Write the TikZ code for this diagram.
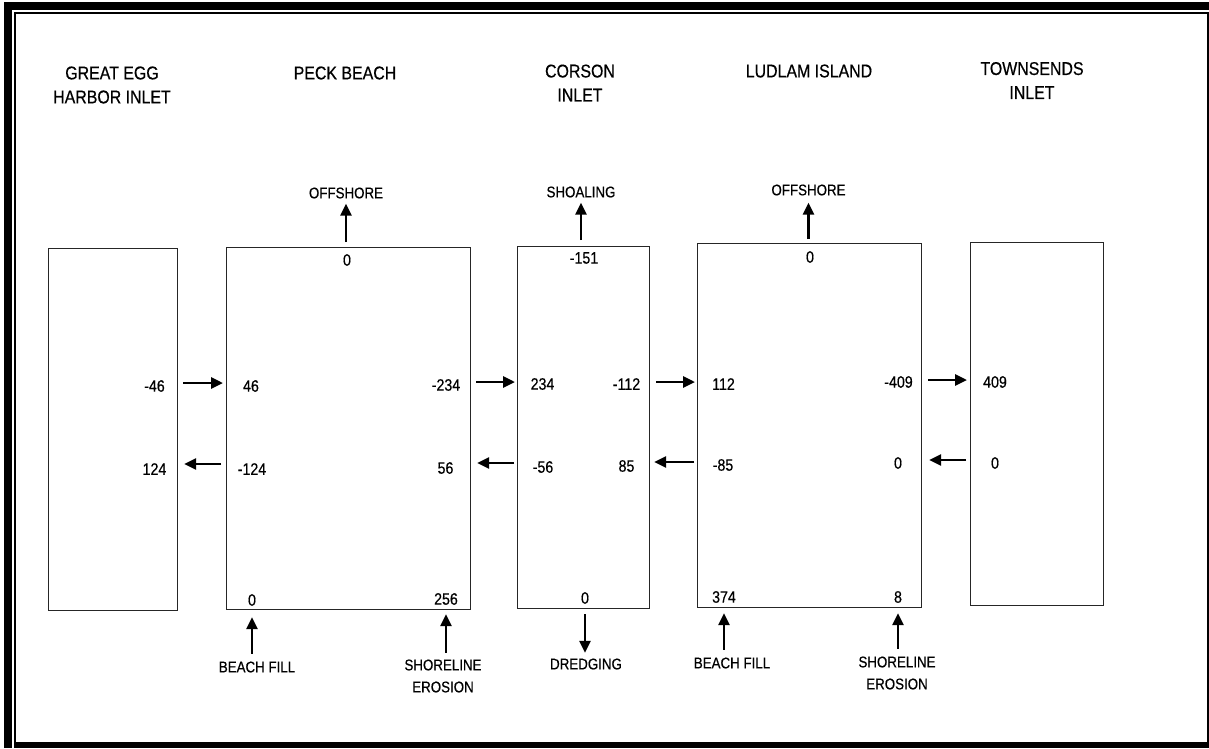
\documentclass[tikz,border=0pt]{standalone}
\usepackage{fontspec}
\setmainfont[FakeStretch=0.86]{Liberation Sans}
\newfontfamily\diagfont[FakeStretch=0.86,FakeBold=0.5]{Liberation Sans}
\usetikzlibrary{arrows.meta,calc}
\begin{document}
\begin{tikzpicture}[x=1pt,y=-1pt,
  box/.style={draw=black!85, line width=1.2pt, inner sep=0pt, anchor=north west},
  ttl/.style={font=\fontsize{18.5}{24}\selectfont\diagfont, align=center, inner sep=0pt},
  lbl/.style={font=\fontsize{15.5}{22}\selectfont\diagfont, align=center, inner sep=3pt},
  num/.style={font=\fontsize{16.5}{19}\selectfont\diagfont, inner sep=0pt},
  flow/.style={line width=2.8pt, -{Triangle[length=12pt,width=11pt]}}]
\useasboundingbox (0,0) rectangle (1209,748);
% frame
\fill[black] (4,2) rectangle (12,748);
\fill[black] (4,2) rectangle (1209,10);
\fill[black] (14,12) rectangle (1209,14);
\fill[black] (14,12) rectangle (16,742);
\fill[black] (14,742) rectangle (1209,748);
\fill[black] (1207,12) rectangle (1209,742);
% titles
\node[ttl] (t1) at (112,85) {GREAT EGG\\HARBOR INLET};
\node[ttl] (t2) at (345,73) {PECK BEACH};
\node[ttl] (t3) at (580,83) {CORSON\\INLET};
\node[ttl] (t4) at (809,71) {LUDLAM ISLAND};
\node[ttl] (t5) at (1032,80.5) {TOWNSENDS\\INLET};
% boxes
\node[box, minimum width=129pt, minimum height=362pt] (b1) at (48,248) {};
\node[box, minimum width=244pt, minimum height=362pt] (b2) at (226,247) {};
\node[box, minimum width=132pt, minimum height=362pt] (b3) at (517,246) {};
\node[box, minimum width=224pt, minimum height=364pt] (b4) at (697,243) {};
\node[box, minimum width=133pt, minimum height=363pt] (b5) at (970,242) {};
% row 1 numbers
\node[num] (n1a) at (154.5,386) {-46};
\node[num] (n1b) at (251,386) {46};
\node[num] (n1c) at (446,385) {-234};
\node[num] (n1d) at (542.5,384) {234};
\node[num] (n1e) at (626.5,384) {-112};
\node[num] (n1f) at (723.5,384) {112};
\node[num] (n1g) at (898.5,382) {-409};
\node[num] (n1h) at (995,382) {409};
% row 2 numbers
\node[num] (n2a) at (154.5,469) {124};
\node[num] (n2b) at (252,469) {-124};
\node[num] (n2c) at (445.5,468) {56};
\node[num] (n2d) at (543,467) {-56};
\node[num] (n2e) at (626.5,466) {85};
\node[num] (n2f) at (723,465) {-85};
\node[num] (n2g) at (898,463) {0};
\node[num] (n2h) at (995,463) {0};
% top / bottom numbers
\node[num] (tp2) at (347,260) {0};
\node[num] (tp3) at (584,258) {-151};
\node[num] (tp4) at (810,257) {0};
\node[num] (bt2a) at (252,600) {0};
\node[num] (bt2b) at (446,599) {256};
\node[num] (bt3) at (585,598) {0};
\node[num] (bt4a) at (724,597) {374};
\node[num] (bt4b) at (898,597) {8};
% row coordinates
\coordinate (r1a) at (0,383);
\coordinate (r1b) at (0,382);
\coordinate (r1c) at (0,382);
\coordinate (r1d) at (0,380);
\coordinate (r2a) at (0,464);
\coordinate (r2b) at (0,463);
\coordinate (r2c) at (0,462);
\coordinate (r2d) at (0,460);
% rightward arrows
\draw[flow] ($(b1.east |- r1a)+(5,0)$) -- ($(b2.west |- r1a)+(-3,0)$);
\draw[flow] ($(b2.east |- r1b)+(5,0)$) -- ($(b3.west |- r1b)+(-2,0)$);
\draw[flow] ($(b3.east |- r1c)+(6,0)$) -- ($(b4.west |- r1c)+(-2,0)$);
\draw[flow] ($(b4.east |- r1d)+(6,0)$) -- ($(b5.west |- r1d)+(-3,0)$);
% leftward arrows
\draw[flow] ($(b2.west |- r2a)+(-5,0)$) -- ($(b1.east |- r2a)+(6,0)$);
\draw[flow] ($(b3.west |- r2b)+(-3,0)$) -- ($(b2.east |- r2b)+(6,0)$);
\draw[flow] ($(b4.west |- r2c)+(-3,0)$) -- ($(b3.east |- r2c)+(4,0)$);
\draw[flow] ($(b5.west |- r2d)+(-4,0)$) -- ($(b4.east |- r2d)+(7,0)$);
% top labels and arrows
\node[lbl] (off1) at (346,193) {OFFSHORE};
\node[lbl] (shl) at (581,192) {SHOALING};
\node[lbl] (off2) at (808.5,190) {OFFSHORE};
\draw[flow] ($(b2.north -| off1)+(0,-5)$) -- ($(off1.south)+(0,2)$);
\draw[flow] ($(b3.north -| shl)+(0,-6)$) -- ($(shl.south)+(0,2)$);
\draw[flow] ($(b4.north -| off2)+(0,-4)$) -- ($(off2.south)+(0,4)$);
% bottom labels and arrows
\node[lbl] (bf1) at (257,667) {BEACH FILL};
\node[lbl] (se1) at (443,676) {SHORELINE\\EROSION};
\node[lbl] (dr) at (586,664) {DREDGING};
\node[lbl] (bf2) at (732,663) {BEACH FILL};
\node[lbl] (se2) at (897,673) {SHORELINE\\EROSION};
\draw[flow] ($(bf1.north -| bt2a)+(0,-4.5)$) -- ($(b2.south -| bt2a)+(0,7)$);
\draw[flow] ($(se1.north -| bt2b)+(0,-3.5)$) -- ($(b2.south -| bt2b)+(0,4)$);
\draw[flow] ($(b3.south -| bt3)+(0,5)$) -- ($(dr.north -| bt3)+(0,-2.5)$);
\draw[flow] ($(bf2.north -| bt4a)+(0,-4.5)$) -- ($(b4.south -| bt4a)+(0,5)$);
\draw[flow] ($(se2.north -| bt4b)+(0,-4.5)$) -- ($(b4.south -| bt4b)+(0,5)$);
\end{tikzpicture}
\end{document}
